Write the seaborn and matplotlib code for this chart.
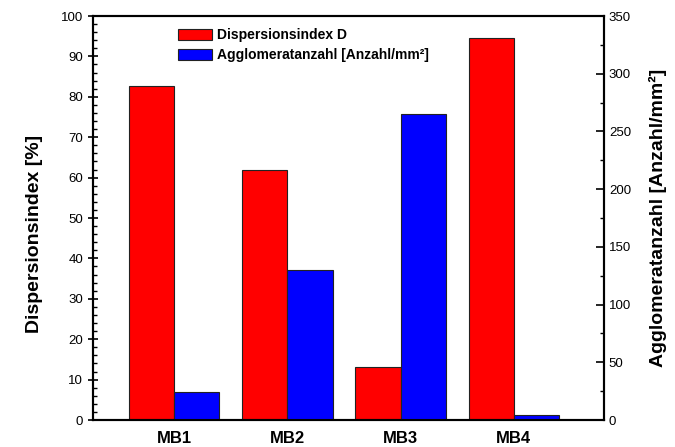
import numpy as np
import pandas as pd
import matplotlib
matplotlib.use("Agg")
import matplotlib.pyplot as plt
import seaborn as sns
from matplotlib.ticker import MultipleLocator

# ==========================================
# Data
# ==========================================

samples = ["MB1", "MB2", "MB3", "MB4"]
dispersion = [82.7, 61.8, 13.2, 94.5]        # Dispersionsindex D [%]
agglomerates = [24.0, 130.0, 265.0, 4.5]    # Agglomeratanzahl [Anzahl/mm²]

lab_d = "Dispersionsindex D"
lab_a = "Agglomeratanzahl [Anzahl/mm²]"

df = pd.DataFrame({
    "sample": samples * 2,
    "series": [lab_d] * 4 + [lab_a] * 4,
    "value": dispersion + agglomerates,
})

# each axis gets only its own series, the other one is NaN so the dodge slot stays
df_left = df.copy()
df_left.loc[df_left["series"] == lab_a, "value"] = np.nan
df_right = df.copy()
df_right.loc[df_right["series"] == lab_d, "value"] = np.nan

# ==========================================
# Style
# ==========================================

sns.set_style("ticks")
plt.rcParams["font.family"] = ["Liberation Sans", "DejaVu Sans"]
plt.rcParams["text.color"] = "black"
plt.rcParams["axes.labelcolor"] = "black"
plt.rcParams["xtick.color"] = "black"
plt.rcParams["ytick.color"] = "black"

palette = {lab_d: "#ff0000", lab_a: "#0000ff"}

fig = plt.figure(figsize=(6.75, 4.47), dpi=100)
ax1 = fig.add_axes([0.1378, 0.0604, 0.757, 0.9038])
ax2 = ax1.twinx()

sns.barplot(
    data=df_left, x="sample", y="value", hue="series",
    hue_order=[lab_d, lab_a], palette=palette, width=0.8, saturation=1,
    edgecolor="#222222", linewidth=0.8, ax=ax1, legend=False
)
sns.barplot(
    data=df_right, x="sample", y="value", hue="series",
    hue_order=[lab_d, lab_a], palette=palette, width=0.8, saturation=1,
    edgecolor="#222222", linewidth=0.8, ax=ax2, legend=False
)

# ==========================================
# Axes
# ==========================================

ax1.set_xlim(-0.715, 3.795)
ax1.set_ylim(0, 100)
ax2.set_ylim(0, 350)

ax1.yaxis.set_major_locator(MultipleLocator(10))
ax1.yaxis.set_minor_locator(MultipleLocator(2))
ax2.yaxis.set_major_locator(MultipleLocator(50))
ax2.yaxis.set_minor_locator(MultipleLocator(25))

ax1.tick_params(axis="y", which="major", direction="inout", length=7, width=1.2, labelsize=9.5)
ax1.tick_params(axis="y", which="minor", direction="in", length=3, width=1)
ax2.tick_params(axis="y", which="major", direction="in", length=6, width=1.2, labelsize=9.5)
ax2.tick_params(axis="y", which="minor", direction="in", length=3, width=1)
ax1.tick_params(axis="x", length=0, pad=8)

for lbl in ax1.get_xticklabels():
    lbl.set_fontsize(12)
    lbl.set_fontweight("bold")

for ax in (ax1, ax2):
    for s in ax.spines.values():
        s.set_linewidth(1.5)
        s.set_color("black")

ax1.set_xlabel("")
ax1.set_ylabel("Dispersionsindex [%]", fontsize=14, fontweight="bold", labelpad=13)
ax1.yaxis.label.set_y(0.46)
ax2.set_ylabel("Agglomeratanzahl [Anzahl/mm²]", fontsize=14, fontweight="bold", labelpad=13)

# ==========================================
# Legend
# ==========================================

handles = [
    plt.Rectangle((0, 0), 1, 1, facecolor="#ff0000", edgecolor="#222222", linewidth=0.8),
    plt.Rectangle((0, 0), 1, 1, facecolor="#0000ff", edgecolor="#222222", linewidth=0.8),
]
leg = ax2.legend(
    handles, [lab_d, lab_a], loc="upper left", bbox_to_anchor=(0.166, 0.97),
    frameon=False, borderpad=0, borderaxespad=0,
    handlelength=2.45, handleheight=0.8, handletextpad=0.4,
    labelspacing=0.45, prop={"size": 10, "weight": "bold"}
)

fig.savefig("out.png", dpi=100)
